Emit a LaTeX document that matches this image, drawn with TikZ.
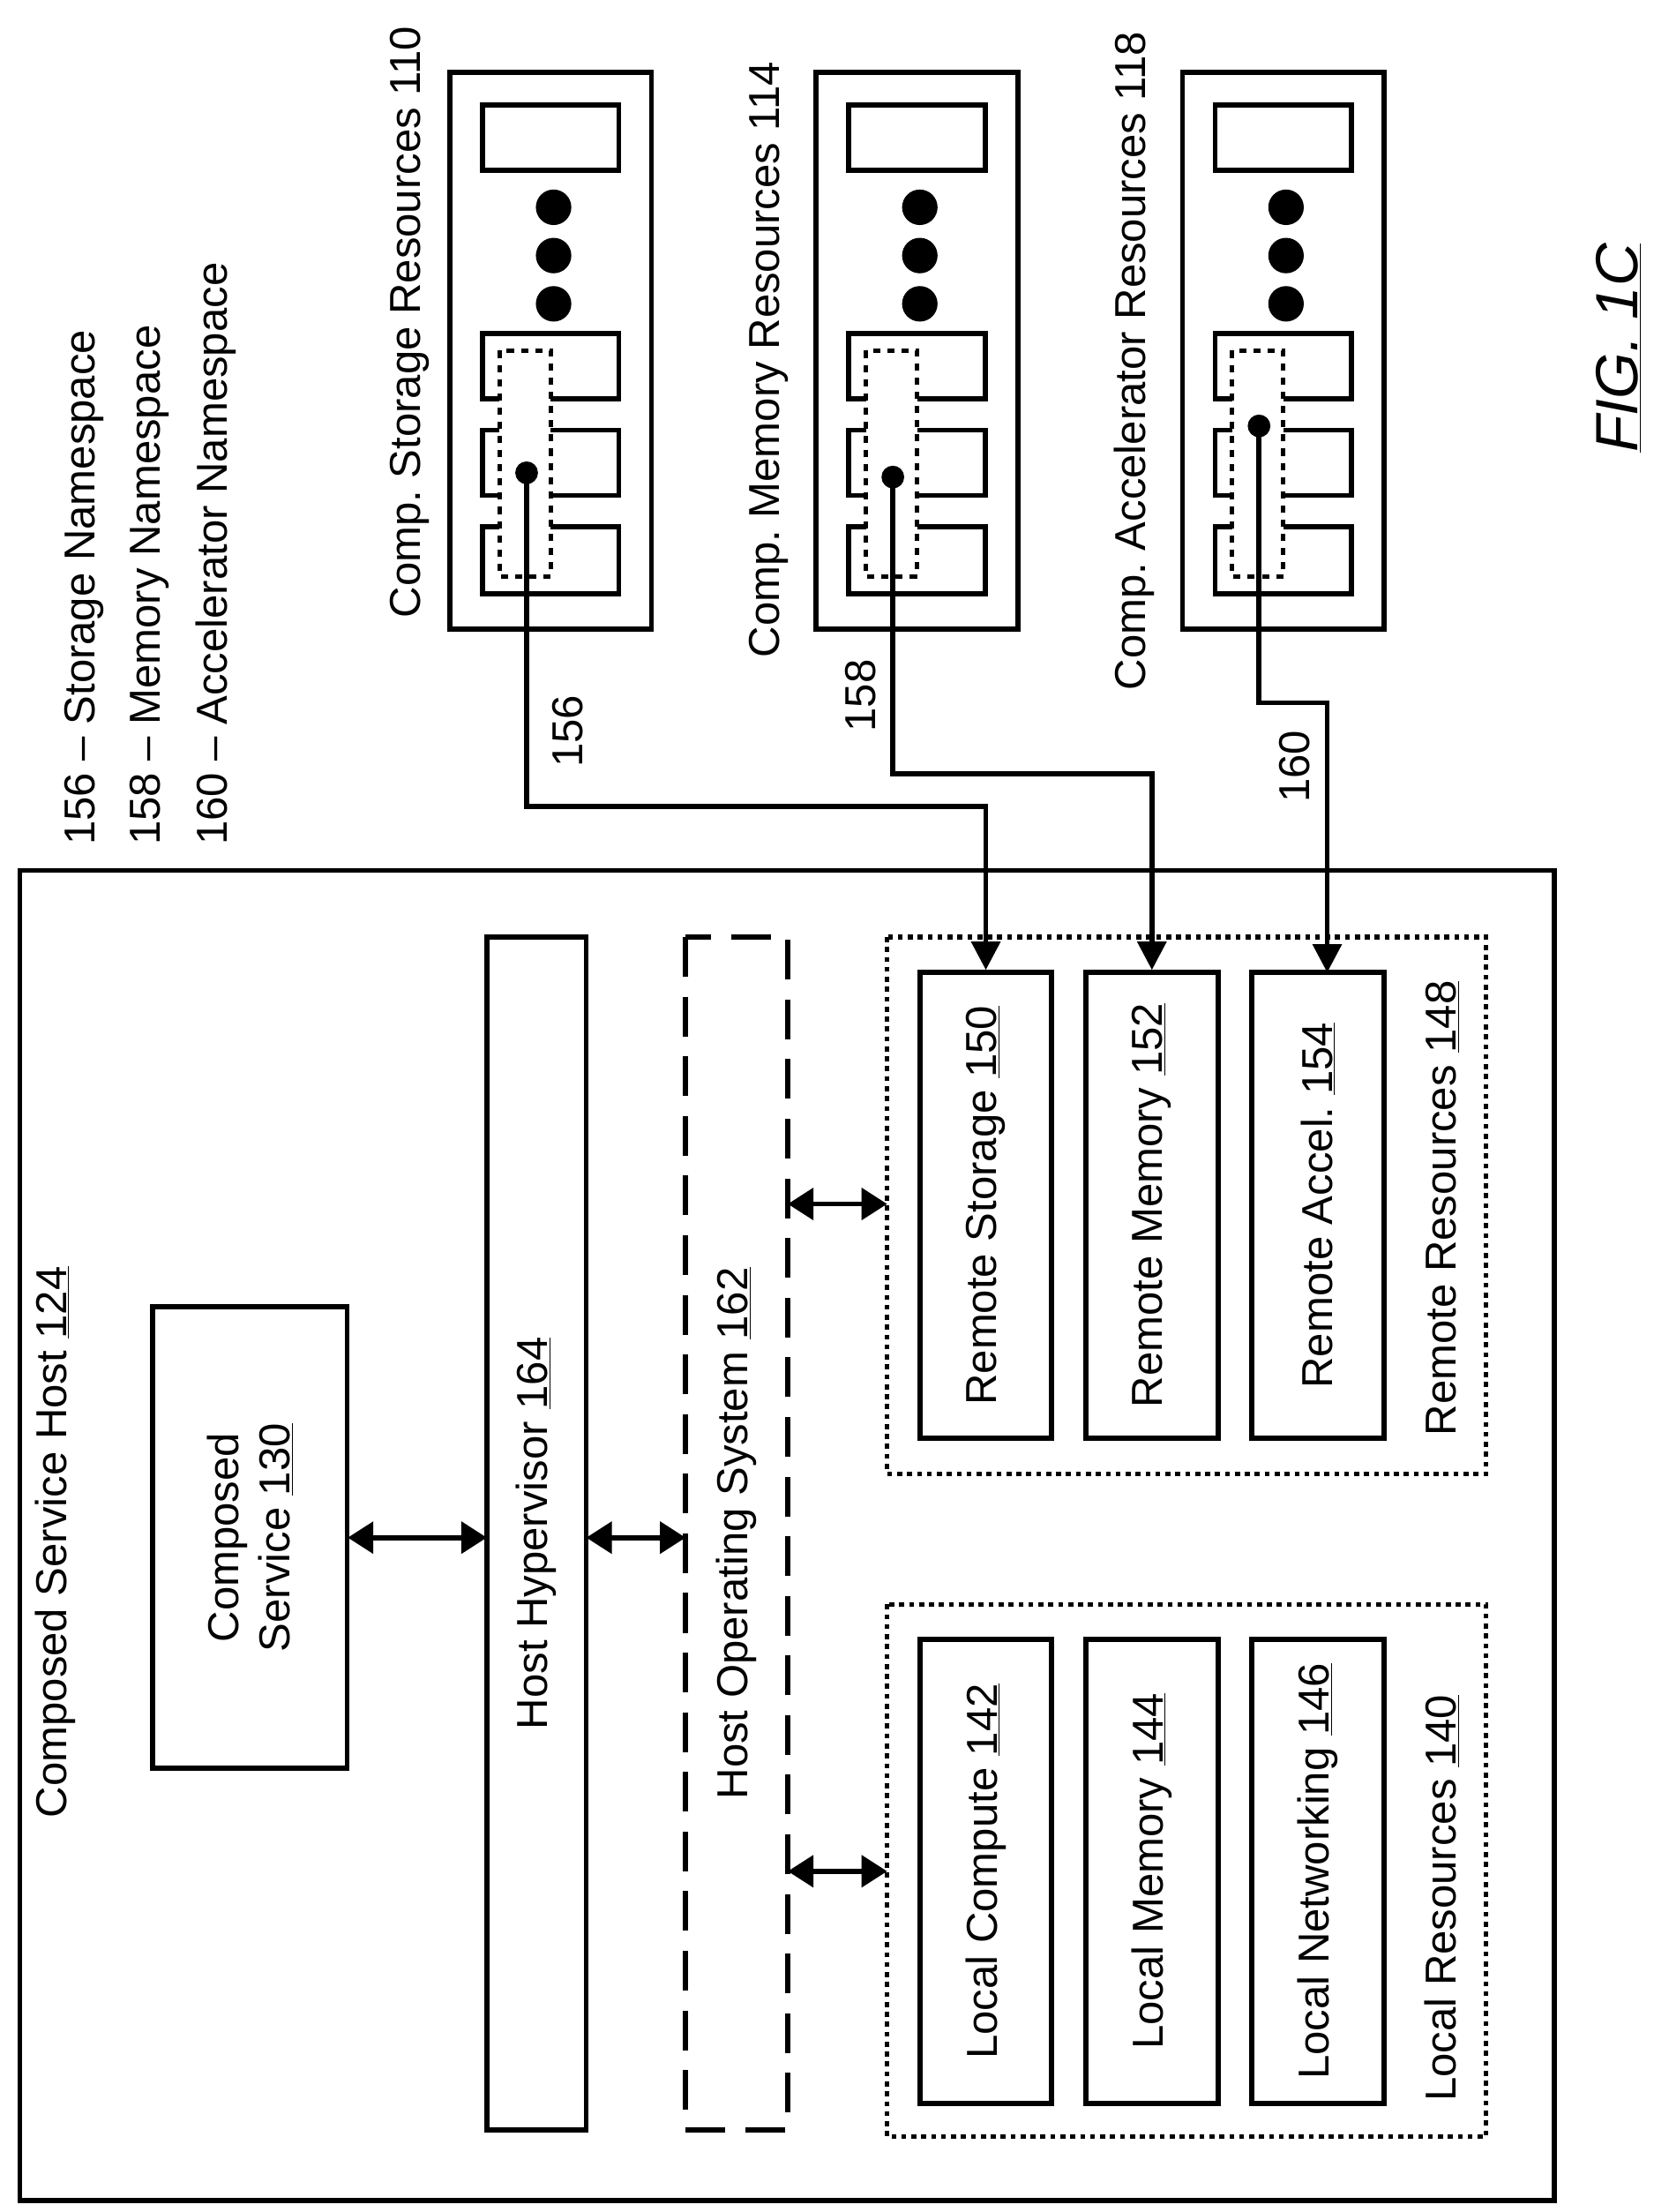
\documentclass[tikz,border=0pt]{standalone}
\usepackage{fontspec}
\setmainfont{Liberation Sans}
\usetikzlibrary{arrows.meta}
\begin{document}
\frenchspacing
\begin{tikzpicture}[x=1pt,y=-1pt,line width=3.6pt,
  txt/.style={rotate=90,font=\fontsize{30.5}{36}\selectfont,inner sep=0pt},
  box/.style={draw,line width=3.6pt},
  dbl/.style={line width=3.6pt,{Triangle[length=18pt,width=22pt]}-{Triangle[length=18pt,width=22pt]}},
  arr/.style={line width=3.6pt,-{Triangle[length=20pt,width=20pt]}}]
\useasboundingbox (0,0) rectangle (1165,1558);
% legend
\node[txt,anchor=south west] (l1) at (75,597) {156 -- Storage Namespace};
\node[txt,anchor=south west] (l2) at (121,597) {158 -- Memory Namespace};
\node[txt,anchor=south west] (l3) at (168,597) {160 -- Accelerator Namespace};
% resource panels
\foreach \ox/\dy in {0/333, 258/336, 516/300}{
  \begin{scope}[xshift=\ox pt]
  \draw (317,51) rectangle (459,443);
  \draw (340,74) rectangle (436,120);
  \fill (390,146) circle (12.5) (390,180) circle (12.5) (390,214) circle (12.5);
  \draw (340,235) rectangle (436,281);
  \draw (340,303) rectangle (436,349);
  \draw (340,371) rectangle (436,418);
  \fill[white] (352,247) rectangle (388,406);
  \draw[line width=3pt,dash pattern=on 5pt off 5pt] (352,247) rectangle (388,406);
  \fill (371,\dy) circle (8);
  \end{scope}}
\node[txt,anchor=south west] at (304,437) {Comp. Storage Resources 110};
\node[txt,anchor=south west] at (557,465) {Comp. Memory Resources 114};
\node[txt,anchor=south west] at (815,488) {Comp. Accelerator Resources 118};
\coordinate (d1) at (371,333);
\coordinate (d2) at (629,336);
\coordinate (d3) at (887,300);
% host
\draw (14,613) rectangle (1095,1550);
\node[txt,anchor=south west] (host) at (55,1282) {Composed Service Host \underline{124}};
\node[box,minimum width=325pt,minimum height=137pt,rotate=90,inner sep=0pt] (cs) at (176,1083) {};
\node[txt,align=center] at (176,1083) {Composed\\Service \underline{130}};
\node[box,minimum width=840pt,minimum height=70pt,rotate=90] (hv) at (378,1080) {};
\node[txt] at (378,1080) {Host Hypervisor \underline{164}};
\node[draw,line width=3.6pt,dash pattern=on 28pt off 14pt,minimum width=840pt,minimum height=72pt,rotate=90] (os) at (519,1080) {};
\node[txt] at (519,1080) {Host Operating System \underline{162}};
\draw[dbl] (245,1083) -- (343,1083);
\draw[dbl] (413,1083) -- (483,1083);
% remote
\draw[line width=3.2pt,dash pattern=on 3.5pt off 3.5pt] (625,660) rectangle (1047,1038);
\node[txt,anchor=south west] at (1030,1013) {Remote Resources \underline{148}};
\node[box,minimum width=328pt,minimum height=93pt,rotate=90] (rs) at (694.5,849) {};
\node[txt] at (694.5,849) {Remote Storage \underline{150}};
\node[box,minimum width=328pt,minimum height=93pt,rotate=90] (rm) at (811.5,849) {};
\node[txt] at (811.5,849) {Remote Memory \underline{152}};
\node[box,minimum width=328pt,minimum height=93pt,rotate=90] (ra) at (928.5,849) {};
\node[txt] at (928.5,849) {Remote Accel. \underline{154}};
% local
\draw[line width=3.2pt,dash pattern=on 3.5pt off 3.5pt] (625,1130) rectangle (1047,1505);
\node[txt,anchor=south west] at (1030,1482) {Local Resources \underline{140}};
\node[box,minimum width=327pt,minimum height=93pt,rotate=90] (lc) at (694.5,1318) {};
\node[txt] at (694.5,1318) {Local Compute \underline{142}};
\node[box,minimum width=327pt,minimum height=93pt,rotate=90] (lm) at (811.5,1318) {};
\node[txt] at (811.5,1318) {Local Memory \underline{144}};
\node[box,minimum width=327pt,minimum height=93pt,rotate=90] (ln) at (928.5,1318) {};
\node[txt] at (928.5,1318) {Local Networking \underline{146}};
\draw[dbl] (555,848) -- (625,848);
\draw[dbl] (555,1318) -- (625,1318);
% connectors
\draw[arr] (d1) -- (371,568) -- (694.5,568) -- (rs.east);
\draw[arr] (d2) -- (629,545) -- (811.5,545) -- (rm.east);
\draw[arr] (d3) -- (887,495) -- (935,495) -- (935,685);
\node[txt] at (400,515) {156};
\node[txt] at (606,490) {158};
\node[txt] at (912,540) {160};
\node[txt,font=\fontsize{42}{48}\selectfont\itshape] at (1140,245) {\underline{FIG. 1C}};
\end{tikzpicture}
\end{document}
